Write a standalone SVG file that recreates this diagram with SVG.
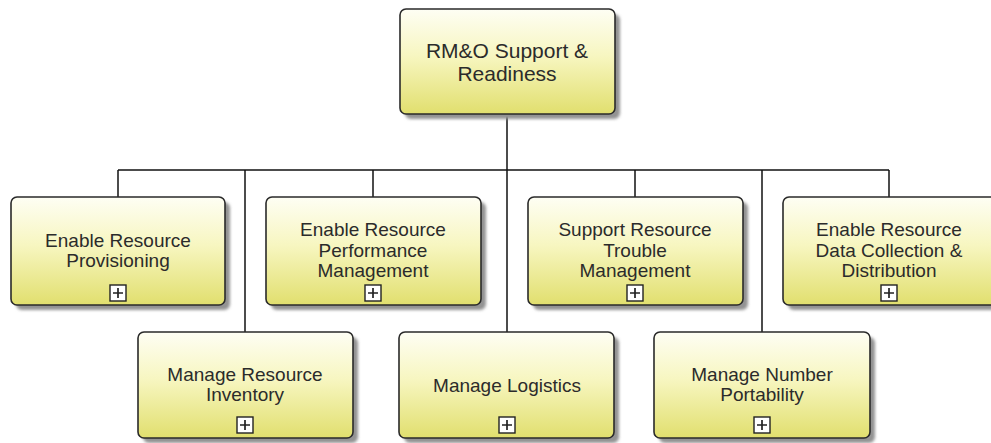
<svg xmlns="http://www.w3.org/2000/svg" width="991" height="443" viewBox="0 0 991 443">
  <defs>
    <linearGradient id="boxFill" x1="0" y1="0" x2="0" y2="1">
      <stop offset="0" stop-color="#fefef4"/>
      <stop offset="0.45" stop-color="#f7f6c0"/>
      <stop offset="1" stop-color="#e1df6e"/>
    </linearGradient>
    <filter id="soft" x="-10%" y="-10%" width="120%" height="120%">
      <feGaussianBlur stdDeviation="1.5"/>
    </filter>
    <g id="expand">
      <rect x="-8" y="0" width="16" height="16" fill="#ffffff" stroke="#222" stroke-width="1.4"/>
      <path d="M-5 8H5M0 3V13" stroke="#222" stroke-width="1.7"/>
    </g>
  </defs>
  <style>
    .shadow { fill: #939393; filter: url(#soft); }
    .box { fill: url(#boxFill); stroke: #2a2a2a; stroke-width: 1.6; }
    .label { font-family: "Liberation Sans", Arial, sans-serif; font-size: 19px; fill: #2b2b2b; text-anchor: middle; }
    .title { font-size: 21px; }
    .wire { fill: none; stroke: #111; stroke-width: 1.5; }
  </style>

  <rect width="991" height="443" fill="#ffffff"/>

  <!-- connectors -->
  <g id="connectors" class="wire">
    <path d="M507 114V332"/>
    <path d="M118 170H889"/>
    <path d="M118 170V197"/>
    <path d="M245 170V332"/>
    <path d="M373 170V197"/>
    <path d="M635 170V197"/>
    <path d="M762 170V332"/>
    <path d="M889 170V197"/>
  </g>

  <!-- root -->
  <g id="rmo-support">
    <rect class="shadow" x="405" y="14" width="215" height="105" rx="6"/>
    <rect class="box" x="400" y="9" width="215" height="105" rx="6"/>
    <text class="label title" x="507" y="58">RM&amp;O Support &amp;</text>
    <text class="label title" x="507" y="81">Readiness</text>
  </g>

  <!-- upper row -->
  <g id="enable-provisioning">
    <rect class="shadow" x="16" y="202" width="214" height="108" rx="6"/>
    <rect class="box" x="11" y="197" width="214" height="108" rx="6"/>
    <text class="label" x="118" y="247">Enable Resource</text>
    <text class="label" x="118" y="267">Provisioning</text>
    <use href="#expand" x="118" y="285"/>
  </g>

  <g id="enable-performance">
    <rect class="shadow" x="271" y="202" width="215" height="108" rx="6"/>
    <rect class="box" x="266" y="197" width="215" height="108" rx="6"/>
    <text class="label" x="373" y="236">Enable Resource</text>
    <text class="label" x="373" y="257">Performance</text>
    <text class="label" x="373" y="277">Management</text>
    <use href="#expand" x="373" y="285"/>
  </g>

  <g id="support-trouble">
    <rect class="shadow" x="533" y="202" width="215" height="108" rx="6"/>
    <rect class="box" x="528" y="197" width="215" height="108" rx="6"/>
    <text class="label" x="635" y="236">Support Resource</text>
    <text class="label" x="635" y="257">Trouble</text>
    <text class="label" x="635" y="277">Management</text>
    <use href="#expand" x="635" y="285"/>
  </g>

  <g id="enable-data-collection">
    <rect class="shadow" x="788" y="202" width="214" height="108" rx="6"/>
    <rect class="box" x="783" y="197" width="214" height="108" rx="6"/>
    <text class="label" x="889" y="236">Enable Resource</text>
    <text class="label" x="889" y="257">Data Collection &amp;</text>
    <text class="label" x="889" y="277">Distribution</text>
    <use href="#expand" x="889" y="285"/>
  </g>

  <!-- lower row -->
  <g id="manage-inventory">
    <rect class="shadow" x="143" y="337" width="215" height="106" rx="6"/>
    <rect class="box" x="138" y="332" width="215" height="106" rx="6"/>
    <text class="label" x="245" y="381">Manage Resource</text>
    <text class="label" x="245" y="401">Inventory</text>
    <use href="#expand" x="245" y="417"/>
  </g>

  <g id="manage-logistics">
    <rect class="shadow" x="404" y="337" width="215" height="106" rx="6"/>
    <rect class="box" x="399" y="332" width="215" height="106" rx="6"/>
    <text class="label" x="507" y="392">Manage Logistics</text>
    <use href="#expand" x="507" y="417"/>
  </g>

  <g id="manage-portability">
    <rect class="shadow" x="659" y="337" width="216" height="106" rx="6"/>
    <rect class="box" x="654" y="332" width="216" height="106" rx="6"/>
    <text class="label" x="762" y="381">Manage Number</text>
    <text class="label" x="762" y="401">Portability</text>
    <use href="#expand" x="762" y="417"/>
  </g>
</svg>
